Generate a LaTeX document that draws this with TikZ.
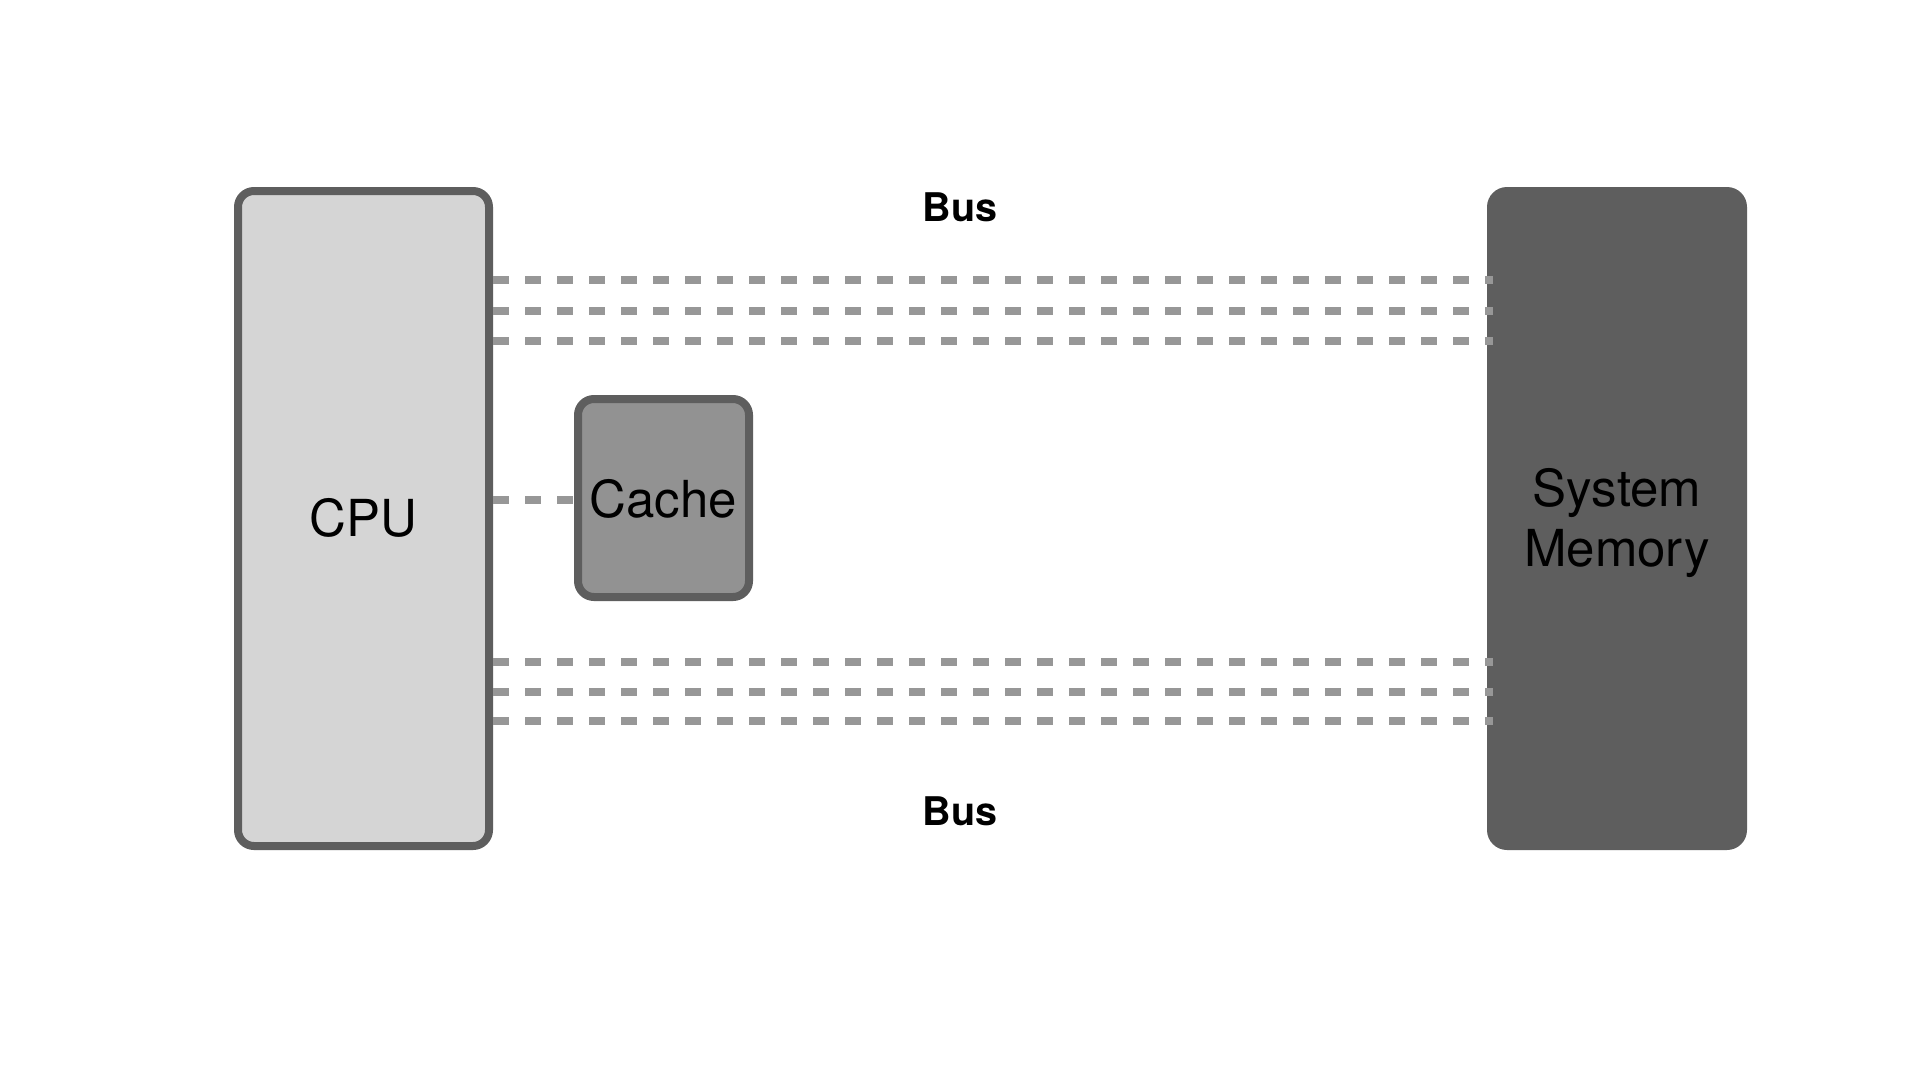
\documentclass[tikz,border=0pt]{standalone}
\usepackage{fontspec}
\setmainfont{TeX Gyre Heros}
\definecolor{edgegray}{HTML}{5E5E5E}
\definecolor{cpufill}{HTML}{D5D5D5}
\definecolor{cachefill}{HTML}{929292}
\definecolor{busgray}{HTML}{979797}
\begin{document}
\begin{tikzpicture}[x=1pt,y=-1pt,
  boxstyle/.style={rectangle, rounded corners=16pt, line width=8pt, draw=edgegray, inner sep=0pt},
  buslane/.style={draw=busgray, line width=8pt, dash pattern=on 16pt off 16pt},
  biglabel/.style={inner sep=0pt, anchor=base, font=\fontsize{51}{60}\selectfont},
  buslabel/.style={inner sep=0pt, anchor=base, font=\fontsize{39.5}{46}\selectfont\bfseries}
]
\useasboundingbox[fill=white] (0,0) rectangle (1920,1080);
% boxes
\node[boxstyle, fill=cpufill, minimum width=251pt, minimum height=655pt] (cpu) at (363.5,518.5) {};
\node[boxstyle, fill=cachefill, minimum width=171pt, minimum height=198pt] (cache) at (663.5,498) {};
\node[rectangle, rounded corners=20pt, fill=edgegray, draw=none, inner sep=0pt, outer sep=0pt,
      minimum width=260pt, minimum height=663pt] (mem) at (1617,518.5) {};
% labels
\node[biglabel] (cpulbl) at (363.5,536) {CPU};
\node[biglabel] (cachelbl) at (663.5,517) {Cache};
\node[biglabel] (sys) at (1617,506) {System};
\node[biglabel] (memlbl) at (1617,566) {Memory};
\node[buslabel] (bustop) at (960,221) {Bus};
\node[buslabel] (busbot) at (960,825) {Bus};
% bus lanes
\coordinate (mw) at ([xshift=6pt]mem.west);
\foreach \yy in {280,311,341,662,692,721}{
  \draw[buslane] (cpu.east |- 0,\yy) -- (mw |- 0,\yy);
}
% cache link
\draw[buslane] (cpu.east |- 0,500) -- (cache.west |- 0,500);
\end{tikzpicture}
\end{document}
